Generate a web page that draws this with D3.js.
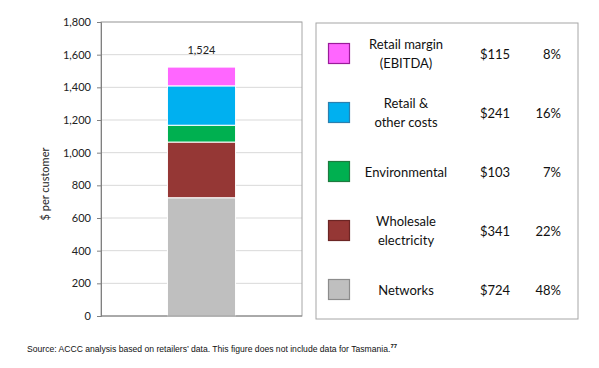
<!DOCTYPE html>
<html><head><meta charset="utf-8">
<script src="https://cdn.jsdelivr.net/npm/d3@7"></script>
<style>
body{margin:0;background:#fff;}
svg{display:block;}
</style></head>
<body><svg id="c" width="599" height="368"></svg>
<script>
const categories = ["Networks","Wholesale electricity","Environmental","Retail & other costs","Retail margin (EBITDA)"];
const labelLines = [["Networks"],["Wholesale","electricity"],["Environmental"],["Retail &","other costs"],["Retail margin","(EBITDA)"]];
const values = [724,341,103,241,115];
const valueLabels = ["$724","$341","$103","$241","$115"];
const pctLabels = ["48%","22%","7%","16%","8%"];
const colors = ["#BFBFBF","#953735","#00B050","#00B0F0","#FF66FF"];
const borders = ["#8C8C8C","#6B2524","#1E7A3E","#2B7FAE","#9A1C9A"];
const yTicks = [0,200,400,600,800,1000,1200,1400,1600,1800];
const totalLabel = "1,524";

(function(){
const svg = d3.select("#c");
const font = "Lato, 'Open Sans', sans-serif";
const pL=101, pR=302, pT=22, pB=316;
const y = d3.scaleLinear().domain([0,1800]).range([pB,pT]);
const x = d3.scaleBand().domain(["all"]).range([pL,pR]).paddingInner(0).paddingOuter(0.975);

// gridlines
svg.append("g").selectAll("line").data(yTicks.slice(1)).join("line")
  .attr("x1",pL).attr("x2",pR).attr("y1",d=>y(d)).attr("y2",d=>y(d))
  .attr("stroke","#D9D9D9").attr("stroke-width",1);

// frame
svg.append("rect").attr("x",pL).attr("y",pT).attr("width",pR-pL).attr("height",pB-pT)
  .attr("fill","none").attr("stroke","#A6A6A6").attr("stroke-width",1);

// stacked bar
let cum=0;
const segs = values.map((v,i)=>{const s={y0:cum,y1:cum+v,i}; cum+=v; return s;});
svg.append("g").selectAll("rect").data(segs).join("rect")
  .attr("x",x("all")).attr("width",x.bandwidth())
  .attr("y",d=>y(d.y1)).attr("height",d=>y(d.y0)-y(d.y1))
  .attr("fill",d=>colors[d.i]).attr("stroke","#fff").attr("stroke-width",1);

svg.append("text").attr("x",x("all")+x.bandwidth()/2).attr("y",y(cum)-13)
  .attr("text-anchor","middle").attr("font-family",font).attr("font-size",11).attr("fill","#222").text(totalLabel);

// axis
const ax = svg.append("g").attr("transform",`translate(${pL},0)`)
  .call(d3.axisLeft(y).tickValues(yTicks).tickSize(4).tickPadding(6).tickFormat(d3.format(",")));
ax.select(".domain").attr("stroke","#808080");
ax.selectAll(".tick line").attr("stroke","#808080");
ax.selectAll("text").attr("font-family",font).attr("font-size",11).attr("fill","#222");

svg.append("line").attr("x1",pL).attr("x2",pR).attr("y1",pB).attr("y2",pB).attr("stroke","#808080");

svg.append("text").attr("transform",`translate(49,${(pT+pB)/2+15}) rotate(-90)`)
  .attr("text-anchor","middle").attr("font-family",font).attr("font-size",11).attr("fill","#222").text("$ per customer");

// legend
svg.append("rect").attr("x",316).attr("y",23).attr("width",262).attr("height",296)
  .attr("fill","#fff").attr("stroke","#A6A6A6");
const rowY = d3.scalePoint().domain(d3.range(5).reverse()).range([54,290]);
const lg = svg.append("g").selectAll("g").data(d3.range(5)).join("g")
  .attr("transform",i=>`translate(0,${rowY(i)})`);
lg.append("rect").attr("x",328.5).attr("y",-10.5).attr("width",21).attr("height",20)
  .attr("fill",i=>colors[i]).attr("stroke",i=>borders[i]).attr("stroke-width",1.2);
lg.each(function(i){
  const g=d3.select(this);
  const lines=labelLines[i];
  const n=lines.length;
  lines.forEach((t,k)=>{
    g.append("text").attr("x",406).attr("y",(k-(n-1)/2)*19+4.5)
      .attr("text-anchor","middle").attr("font-family",font).attr("font-size",13).attr("fill","#111").text(t);
  });
  g.append("text").attr("x",495).attr("y",4.5).attr("text-anchor","middle")
    .attr("font-family",font).attr("font-size",13).attr("fill","#111").text(valueLabels[i]);
  g.append("text").attr("x",561).attr("y",4.5).attr("text-anchor","end")
    .attr("font-family",font).attr("font-size",13).attr("fill","#111").text(pctLabels[i]);
});

// source
const src = svg.append("text").attr("x",27).attr("y",352).attr("font-family","'Liberation Sans', Arial, sans-serif")
  .attr("font-size",8.6).attr("fill","#111");
src.append("tspan").text("Source: ACCC analysis based on retailers\u2019 data. This figure does not include data for Tasmania.");
src.append("tspan").attr("dy",-4).attr("font-size",6).attr("font-weight","bold").text("77");
})();
</script></body></html>
